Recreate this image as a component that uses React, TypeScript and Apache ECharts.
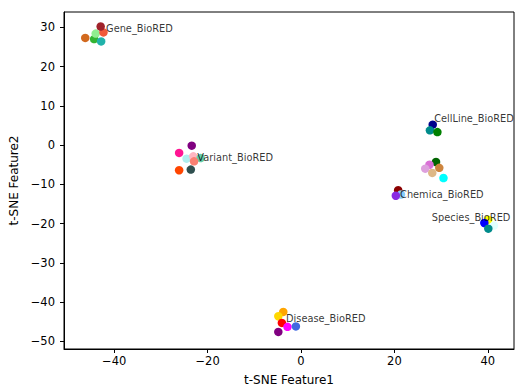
import React, { useEffect, useRef } from "react";
import * as echarts from "echarts";

// Cluster points (t-SNE Feature1, t-SNE Feature2) and colours
const geneX = [-46.2, -44.3, -43.96, -42.3, -42.8, -42.9];
const geneY = [27.3, 27.0, 28.4, 28.7, 26.4, 30.2];
const geneColors = ["#d2691e", "#32b432", "#90ee90", "#f05a3a", "#20b2aa", "#a0222a"];

const variantX = [-23.4, -26.1, -24.5, -23.06, -21.5, -22.9, -26.1, -23.6];
const variantY = [-0.15, -2.0, -3.46, -2.87, -3.3, -4.15, -6.4, -6.25];
const variantColors = ["#800080", "#ff1493", "#afeeee", "#ffb6c1", "#66cdaa", "#fa8072", "#ff4500", "#2f4f4f"];

const cellLineX = [28.2, 27.6, 29.2];
const cellLineY = [5.2, 3.75, 3.3];
const cellLineColors = ["#00008b", "#008b8b", "#008000"];

const otherX = [28.9, 27.5, 26.6, 29.6, 28.1, 30.5];
const otherY = [-4.3, -5.0, -6.0, -5.8, -7.1, -8.4];
const otherColors = ["#006400", "#da70d6", "#dda0dd", "#cd853f", "#deb887", "#00ffff"];

const chemicaX = [20.8, 21.4, 20.3];
const chemicaY = [-11.5, -12.6, -12.9];
const chemicaColors = ["#8b0000", "#87cefa", "#8a2be2"];

const speciesX = [40.1, 39.25, 41.3, 40.1];
const speciesY = [-19.0, -19.85, -20.5, -21.3];
const speciesColors = ["#ffff00", "#0000ff", "#e0ffff", "#008b8b"];

const diseaseX = [-3.8, -4.86, -4.1, -2.9, -1.1, -4.86];
const diseaseY = [-42.5, -43.6, -45.3, -46.3, -46.2, -47.6];
const diseaseColors = ["#ffa500", "#ffd700", "#ff0000", "#ff00ff", "#4169e1", "#800080"];

// Cluster annotations
const labelNames = ["Gene_BioRED", "Variant_BioRED", "CellLine_BioRED", "Chemica_BioRED", "Species_BioRED", "Disease_BioRED"];
const labelX = [-41.75, -22.2, 28.5, 21.2, 28.0, -3.2];
const labelY = [29.8, -3.1, 6.65, -12.6, -18.4, -44.3];

// Axes
const xTicks = [-40, -20, 0, 20, 40];
const yTicks = [-50, -40, -30, -20, -10, 0, 10, 20, 30];
const xMin = -50.75;
const xMax = 45.6;
const yMin = -51.95;
const yMax = 33.9;

const FONT = "DejaVu Sans";

function buildPoints(xs: number[], ys: number[], cs: string[]) {
  return xs.map((x, i) => ({ value: [x, ys[i]], itemStyle: { color: cs[i], opacity: 1 } }));
}

const fmt = (v: number) => String(v).replace("-", "\u2212");

export default function App() {
  const ref = useRef<HTMLDivElement>(null);
  useEffect(() => {
    if (!ref.current) return;
    const chart = echarts.init(ref.current, undefined, { renderer: "svg" });
    const points = [
      ...buildPoints(geneX, geneY, geneColors),
      ...buildPoints(variantX, variantY, variantColors),
      ...buildPoints(cellLineX, cellLineY, cellLineColors),
      ...buildPoints(otherX, otherY, otherColors),
      ...buildPoints(chemicaX, chemicaY, chemicaColors),
      ...buildPoints(speciesX, speciesY, speciesColors),
      ...buildPoints(diseaseX, diseaseY, diseaseColors),
    ];
    const labels = labelNames.map((n, i) => ({ name: n, value: [labelX[i], labelY[i]] }));
    chart.setOption({
      animation: false,
      grid: {
        left: 64,
        top: 12,
        width: 450,
        height: 337,
        show: true,
        borderColor: "#000",
        borderWidth: 1,
        backgroundColor: "#fff",
        containLabel: false,
        outerBoundsMode: "none",
      },
      xAxis: {
        type: "value",
        min: xMin,
        max: xMax,
        name: "t-SNE Feature1",
        nameLocation: "middle",
        nameGap: 25,
        nameTextStyle: { fontFamily: FONT, fontSize: 12, color: "#000" },
        splitLine: { show: false },
        axisLine: { show: true, onZero: false, lineStyle: { color: "#000", width: 1 } },
        axisTick: { show: true, inside: false, length: 4, lineStyle: { color: "#000" }, customValues: xTicks },
        axisLabel: {
          show: true,
          margin: 6,
          fontFamily: FONT,
          fontSize: 11.5,
          color: "#000",
          customValues: xTicks,
          formatter: fmt,
        },
      },
      yAxis: {
        type: "value",
        min: yMin,
        max: yMax,
        name: "t-SNE Feature2",
        nameLocation: "middle",
        nameRotate: 90,
        nameGap: 42,
        nameTextStyle: { fontFamily: FONT, fontSize: 12, color: "#000" },
        splitLine: { show: false },
        axisLine: { show: true, onZero: false, lineStyle: { color: "#000", width: 1 } },
        axisTick: { show: true, inside: false, length: 4, lineStyle: { color: "#000" }, customValues: yTicks },
        axisLabel: {
          show: true,
          margin: 9,
          fontFamily: FONT,
          fontSize: 11.5,
          color: "#000",
          customValues: yTicks,
          formatter: fmt,
        },
      },
      series: [
        {
          type: "scatter",
          symbol: "circle",
          symbolSize: 8.5,
          itemStyle: { opacity: 1 },
          data: points,
          z: 2,
        },
        {
          type: "scatter",
          symbolSize: 0,
          data: labels,
          z: 3,
          silent: true,
          label: {
            show: true,
            position: "right",
            distance: 0,
            formatter: (p: any) => p.name,
            fontFamily: FONT,
            fontSize: 9.8,
            color: "#000",
          },
        },
      ],
    });
    return () => chart.dispose();
  }, []);
  return <div ref={ref} style={{ width: 515, height: 387, position: "absolute", left: 0, top: 0 }} />;
}
